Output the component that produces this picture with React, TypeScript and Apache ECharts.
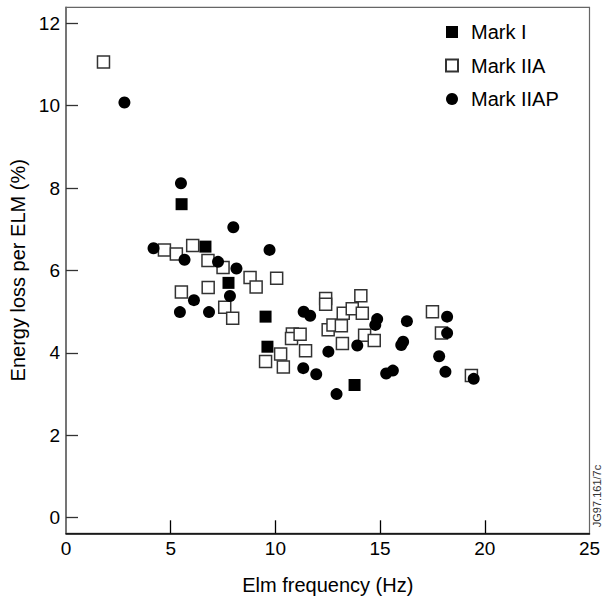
import React, { useEffect, useRef } from "react";
import * as echarts from "echarts";

const seriesNames = ["Mark I", "Mark IIA", "Mark IIAP"];

const markI: number[][] = [
  [5.52, 7.61], [6.66, 6.58], [7.76, 5.7], [9.53, 4.88], [9.62, 4.15], [13.78, 3.22],
];

const markIIA: number[][] = [
  [1.79, 11.06], [4.7, 6.5], [5.27, 6.4], [6.05, 6.61], [6.78, 6.24], [7.5, 6.07],
  [5.51, 5.48], [6.79, 5.59], [7.58, 5.11], [7.96, 4.84], [8.79, 5.83], [9.08, 5.6],
  [10.06, 5.81], [9.53, 3.79], [10.25, 3.97], [10.38, 3.66], [10.81, 4.46], [10.77, 4.35],
  [11.18, 4.45], [11.44, 4.05], [12.4, 5.32], [12.4, 5.18], [12.52, 4.56], [12.75, 4.68],
  [13.15, 4.66], [13.2, 4.23], [13.24, 4.96], [13.67, 5.07], [14.08, 5.39], [14.15, 4.96],
  [14.26, 4.43], [14.72, 4.3], [17.5, 5.0], [17.93, 4.48], [19.36, 3.45],
];

const markIIAP: number[][] = [
  [2.79, 10.08], [5.49, 8.12], [7.99, 7.05], [4.18, 6.54], [5.66, 6.26], [7.26, 6.21],
  [8.14, 6.05], [9.72, 6.5], [7.83, 5.38], [6.11, 5.28], [5.44, 4.99], [6.83, 4.99],
  [11.35, 5.0], [11.66, 4.9], [11.33, 3.63], [11.95, 3.48], [12.92, 3.0], [12.53, 4.03],
  [13.91, 4.18], [14.86, 4.82], [14.77, 4.68], [16.28, 4.77], [16.1, 4.27], [16.01, 4.19],
  [15.29, 3.5], [15.61, 3.57], [18.2, 4.88], [18.2, 4.48], [17.82, 3.92], [18.12, 3.54],
  [19.47, 3.37],
];

const yTicks = [0, 2, 4, 6, 8, 10, 12];
const xTicks = [5, 10, 15, 20];
const xTitle = "Elm frequency (Hz)";
const yTitle = "Energy loss per ELM (%)";
const stamp = "JG97.161/7c";

const X_MIN = 0;
const X_MAX = 25;
const Y_MIN = -0.38;
const Y_MAX = 12.39;

const FONT = "'Liberation Sans', Arial, Helvetica, sans-serif";

export default function App() {
  const ref = useRef<HTMLDivElement>(null);
  useEffect(() => {
    if (!ref.current) return;
    const chart = echarts.init(ref.current, undefined, { renderer: "svg" });
    chart.setOption({
      animation: false,
      backgroundColor: "#fff",
      textStyle: { fontFamily: FONT },
      grid: {
        left: 66,
        top: 7.3,
        width: 523.5,
        height: 526,
        containLabel: false,
        outerBoundsMode: "none",
        show: true,
        borderColor: "#666",
        borderWidth: 1.2,
        backgroundColor: "transparent",
      },
      legend: {
        data: seriesNames,
        orient: "vertical",
        left: 445,
        top: 22,
        padding: 0,
        itemWidth: 12,
        itemHeight: 12,
        itemGap: 13.5,
        textStyle: { fontSize: 20, color: "#000", fontFamily: FONT, lineHeight: 20, padding: [0, 0, 0, 8] },
      },
      xAxis: {
        type: "value",
        min: X_MIN,
        max: X_MAX,
        interval: 5,
        name: xTitle,
        nameLocation: "middle",
        nameGap: 42,
        nameTextStyle: { fontSize: 20, color: "#000", fontFamily: FONT },
        axisLine: { show: true, onZero: false, lineStyle: { color: "#000", width: 1.5 } },
        axisTick: { show: true, inside: true, length: 13, customValues: xTicks, lineStyle: { color: "#000", width: 1.3 } },
        axisLabel: { fontSize: 19, color: "#000", margin: 6, fontFamily: FONT },
        splitLine: { show: false },
      },
      yAxis: {
        type: "value",
        min: Y_MIN,
        max: Y_MAX,
        name: yTitle,
        nameLocation: "middle",
        nameGap: 29,
        nameTextStyle: { fontSize: 20, color: "#000", fontFamily: FONT },
        axisLine: { show: true, onZero: false, lineStyle: { color: "#666", width: 1.5 } },
        axisTick: { show: true, inside: true, length: 12, customValues: yTicks, lineStyle: { color: "#333", width: 1.3 } },
        axisLabel: { fontSize: 19, color: "#000", margin: 6, fontFamily: FONT, customValues: yTicks },
        splitLine: { show: false },
      },
      series: [
        {
          name: "Mark IIA",
          type: "scatter",
          symbol: "rect",
          symbolSize: 12,
          z: 2,
          itemStyle: { color: "#fff", borderColor: "#333", borderWidth: 1.5, opacity: 1 },
          data: markIIA,
        },
        {
          name: "Mark I",
          type: "scatter",
          symbol: "rect",
          symbolSize: 12,
          z: 3,
          itemStyle: { color: "#000", opacity: 1 },
          data: markI,
        },
        {
          name: "Mark IIAP",
          type: "scatter",
          symbol: "circle",
          symbolSize: 12,
          z: 4,
          itemStyle: { color: "#000", opacity: 1 },
          data: markIIAP,
        },
      ],
      graphic: [
        {
          type: "text",
          x: 597,
          y: 496,
          rotation: Math.PI / 2,
          style: {
            text: stamp,
            fontSize: 11,
            fontFamily: FONT,
            fill: "#333",
            align: "center",
            verticalAlign: "middle",
          },
        },
      ],
    });
    return () => chart.dispose();
  }, []);
  return <div ref={ref} style={{ width: 602, height: 597, position: "absolute", left: 0, top: 0 }} />;
}
